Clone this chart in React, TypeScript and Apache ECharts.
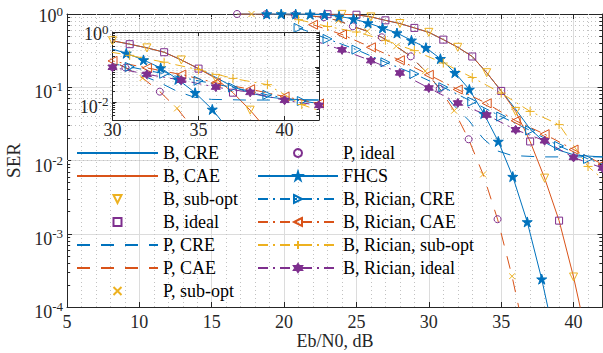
import React, { useEffect, useRef } from 'react';
import * as echarts from 'echarts';

// ---------------- data ----------------
const B_X = [17,18,19,20,21,22,23,24,25,26,27,28,29,30,31,32,33,34,35,36,37,38,39,40,41];
const B_CAE = [1,1,1,0.999,0.998,0.996,0.993,0.989,0.977,0.912,0.82,0.741,0.646,0.562,0.447,0.351,0.263,0.158,0.0891,0.0468,0.0182,0.00575,0.00151,0.000257,0.000032];
const B_CRE_X = [17,18,19,20,21,22,23,24,25,26,27,28,29,30,31,32,33,34,35,36,37,38,39,40,41,42];
const B_CRE = [1,1,1,0.999,0.998,0.996,0.993,0.989,0.977,0.912,0.82,0.741,0.646,0.562,0.447,0.351,0.263,0.158,0.0891,0.05,0.0269,0.0178,0.0138,0.012,0.0115,0.0112];
const B_SUB_X = [24,26,28,30,32,34,36,38,40];
const B_SUB = [0.989,0.912,0.741,0.562,0.351,0.158,0.0468,0.00575,0.000257];
const B_IDEAL_X = [23,25,27,29,31,33,35,37,39];
const B_IDEAL = [0.993,0.977,0.82,0.646,0.447,0.263,0.0891,0.0182,0.00151];

const P_X = [16.75,17.75,18.75,19.75,20.75,21.75,22.75,23.75,24.75,25.75,26.75,27.75,28.75,29.75,30.75,31.75,32.75,33.75,34.75,35.75,36.75];
const P_CAE = [1,1,0.993,0.986,0.973,0.944,0.902,0.813,0.679,0.582,0.481,0.363,0.264,0.166,0.0955,0.0479,0.0195,0.00646,0.00158,0.000263,0.000032];
const P_CRE_X = [16.75,17.75,18.75,19.75,20.75,21.75,22.75,23.75,24.75,25.75,26.75,27.75,28.75,29.75,30.75,31.75,32.75,33.75,34.75,35.75,37.75,39.75,42];
const P_CRE = [1,1,0.993,0.986,0.973,0.944,0.902,0.813,0.679,0.582,0.481,0.363,0.264,0.166,0.0955,0.056,0.0355,0.02,0.0135,0.0117,0.0112,0.0112,0.0112];
const P_IDEAL_X = [16.75,18.75,20.75,22.75,24.75,26.75,28.75,30.75,32.75,34.75];
const P_IDEAL = [1,0.993,0.973,0.902,0.679,0.481,0.264,0.0955,0.0195,0.00158];
const P_SUB_X = [17.75,19.75,21.75,23.75,25.75,27.75,29.75,31.75,33.75,35.75];
const P_SUB = [1,0.986,0.944,0.813,0.582,0.363,0.166,0.0479,0.00646,0.000263];

const FHCS_X = [18.8,19.8,20.8,21.8,22.8,23.8,24.8,25.8,26.8,27.8,28.8,29.8,30.8,31.8,32.8,33.8,34.8,35.8,36.8,37.8,38.8];
const FHCS = [1,1,0.998,0.99,0.977,0.93,0.855,0.753,0.646,0.55,0.437,0.347,0.245,0.158,0.0933,0.0437,0.0182,0.00603,0.00145,0.00024,0.00003];

const RC_CRE_X = [21,23,25,27,29,31,33,35,37,39,41,42];
const RC_CRE = [0.646,0.457,0.326,0.219,0.152,0.1,0.0635,0.0398,0.0257,0.0158,0.0105,0.0089];
const RC_CAE_X = [22,24,26,28,30,32,34,36,38,40,42];
const RC_CAE = [0.714,0.525,0.351,0.234,0.148,0.0933,0.0603,0.0349,0.0229,0.0141,0.0089];
const RC_SUB_X = [21,23,25,27,29,31,33,35,37,39,41,42];
const RC_SUB = [0.836,0.676,0.568,0.438,0.316,0.214,0.136,0.0832,0.0468,0.0309,0.0083,0.0056];
const RC_IDEAL_X = [22,24,26,28,30,32,34,36,38,40,42];
const RC_IDEAL = [0.437,0.324,0.231,0.157,0.0977,0.061,0.0417,0.0263,0.0186,0.011,0.0079];

const MAIN_X = [5, 42];
const MAIN_Y = [1e-4, 1];
const INSET_X = [30, 42];
const INSET_Y = [0.003, 1];
const X_TITLE = 'Eb/N0, dB';
const Y_TITLE = 'SER';

// ---------------- styles ----------------
const BLUE = '#0072BD';
const RED = '#D95319';
const YEL = '#EDB120';
const PUR = '#7E2F8E';
const AX = '#262626';
const GRID_MAJOR = '#dcdcdc';
const GRID_MINOR = '#c2c2c2';
const FONT = '"Liberation Serif", "Times New Roman", Times, serif';
const DASH = [13, 11];
const DASHDOT = [10, 5, 2, 5];

const SYM = {
  down: 'path://M0,0L10,0L5,9Z',
  right: 'path://M0,0L9,5L0,10Z',
  left: 'path://M9,0L0,5L9,10Z',
  square: 'path://M0,0L10,0L10,10L0,10Z',
  plus: 'path://M5,0L5,10M0,5L10,5',
  cross: 'path://M0,0L10,10M10,0L0,10',
  star5: 'path://M50,0L61.23,34.55L97.55,34.55L68.16,55.9L79.39,90.45L50,69.1L20.61,90.45L31.84,55.9L2.45,34.55L38.77,34.55Z',
  hex: 'path://M50,0L64.43,25L93.3,25L78.87,50L93.3,75L64.43,75L50,100L35.57,75L6.7,75L21.13,50L6.7,25L35.57,25Z',
};

type Spec = {
  name: string; x: number[]; y: number[]; color: string;
  line: any; sym?: string; size?: number; filled?: boolean; tailNoMarker?: boolean;
};

const SPECS: Spec[] = [
  { name: 'B, CRE', x: B_CRE_X, y: B_CRE, color: BLUE, line: 'solid' },
  { name: 'B, CAE', x: B_X, y: B_CAE, color: RED, line: 'solid' },
  { name: 'B, sub-opt', x: B_SUB_X, y: B_SUB, color: YEL, line: null, sym: SYM.down, size: 8 },
  { name: 'B, ideal', x: B_IDEAL_X, y: B_IDEAL, color: PUR, line: null, sym: SYM.square, size: 7 },
  { name: 'P, CRE', x: P_CRE_X, y: P_CRE, color: BLUE, line: DASH },
  { name: 'P, CAE', x: P_X, y: P_CAE, color: RED, line: DASH },
  { name: 'P, sub-opt', x: P_SUB_X, y: P_SUB, color: YEL, line: null, sym: SYM.cross, size: 6 },
  { name: 'P, ideal', x: P_IDEAL_X, y: P_IDEAL, color: PUR, line: null, sym: 'circle', size: 7 },
  { name: 'FHCS', x: FHCS_X, y: FHCS, color: BLUE, line: 'solid', sym: SYM.star5, size: 10, filled: true },
  { name: 'B, Rician, CRE', x: RC_CRE_X, y: RC_CRE, color: BLUE, line: DASHDOT, sym: SYM.right, size: 9, tailNoMarker: true },
  { name: 'B, Rician, CAE', x: RC_CAE_X, y: RC_CAE, color: RED, line: DASHDOT, sym: SYM.left, size: 9 },
  { name: 'B, Rician, sub-opt', x: RC_SUB_X, y: RC_SUB, color: YEL, line: DASHDOT, sym: SYM.plus, size: 9, tailNoMarker: true },
  { name: 'B, Rician, ideal', x: RC_IDEAL_X, y: RC_IDEAL, color: PUR, line: DASHDOT, sym: SYM.hex, size: 9, filled: true },
];

function buildSeries(spec: Spec, xi: number, yi: number, z: number) {
  const data = spec.x.map((x, i) => {
    const item: any = { value: [x, spec.y[i]] };
    if (spec.tailNoMarker && i === spec.x.length - 1) item.symbol = 'none';
    return item;
  });
  const hasLine = !!spec.line;
  return {
    type: 'line',
    name: spec.name,
    xAxisIndex: xi,
    yAxisIndex: yi,
    z,
    data,
    color: spec.color,
    symbol: spec.sym || 'none',
    symbolSize: spec.size || 0,
    showSymbol: !!spec.sym,
    clip: true,
    silent: true,
    emphasis: { disabled: true },
    lineStyle: hasLine
      ? { color: spec.color, width: 1, type: spec.line }
      : { color: spec.color, width: 0, opacity: 0 },
    itemStyle: {
      color: spec.filled ? spec.color : 'rgba(0,0,0,0)',
      borderColor: spec.color,
      borderWidth: 1,
    },
  };
}

function logMinors(lo: number, hi: number) {
  const out: number[] = [];
  for (let e = -6; e <= 1; e++) {
    for (let m = 2; m <= 9; m++) {
      const v = +(m * Math.pow(10, e)).toPrecision(3);
      if (v > lo * 1.0001 && v < hi * 0.9999) out.push(v);
    }
  }
  return out;
}

function linMinors(lo: number, hi: number, major: number) {
  const out: number[] = [];
  for (let v = Math.ceil(lo); v <= hi; v++) {
    if (v > lo && v < hi && v % major !== 0) out.push(v);
  }
  return out;
}

function decoSeries(xi: number, yi: number, z: number, xr: number[], yr: number[], tickLen: number, majorH: number[]) {
  const minorY = logMinors(yr[0], yr[1]);
  const minorX = linMinors(xr[0], xr[1], 5);
  const data: any[] = [];
  minorY.forEach((v) => data.push({ yAxis: v }));
  minorX.forEach((v) => data.push({ xAxis: v }));
  majorH.forEach((v) => data.push({ yAxis: v, lineStyle: { color: GRID_MAJOR, type: 'solid', width: 1 } }));
  minorY.forEach((v) => {
    data.push([{ coord: [xr[0], v], lineStyle: { color: AX, type: 'solid', width: 1 } }, { coord: [xr[0] + tickLen, v] }]);
    data.push([{ coord: [xr[1] - tickLen, v], lineStyle: { color: AX, type: 'solid', width: 1 } }, { coord: [xr[1], v] }]);
  });
  return {
    type: 'line',
    xAxisIndex: xi,
    yAxisIndex: yi,
    data: [],
    silent: true,
    z,
    markLine: {
      silent: true,
      z,
      animation: false,
      symbol: ['none', 'none'],
      label: { show: false },
      emphasis: { disabled: true },
      lineStyle: { color: GRID_MINOR, type: [1, 3], width: 1 },
      data,
    },
  };
}

// all tokens middle-aligned; paddings shift base down / superscript up
const RICH: any = {
  b: { fontFamily: FONT, fontSize: 18, lineHeight: 18, color: AX, padding: [10, 0, 0, 0] },
  s: { fontFamily: FONT, fontSize: 13, lineHeight: 13, color: AX, padding: [0, 0, 1, 0] },
  b0: { fontFamily: FONT, fontSize: 18, lineHeight: 18, color: AX, padding: [3, 0, 0, 0] },
  s0: { fontFamily: FONT, fontSize: 13, lineHeight: 13, color: AX, padding: [0, 0, 5, 0] },
};

function logLabel(allowed: number[] | null) {
  return (v: number) => {
    const l = Math.log10(v);
    const e = Math.round(l);
    if (Math.abs(l - e) > 1e-6) return '';
    if (allowed && allowed.indexOf(e) < 0) return '';
    return e === 0 ? '{b0|10}{s0|0}' : `{b|10}{s|${e}}`;
  };
}

function xAxisCfg(grid: number, range: number[], pos: string, labels: boolean, margin: number, extra: any = {}) {
  return {
    type: 'value',
    gridIndex: grid,
    min: range[0],
    max: range[1],
    interval: 5,
    position: pos,
    z: grid === 1 ? 6 : 0,
    axisLine: { show: true, onZero: false, lineStyle: { color: AX, width: 1 } },
    axisTick: { show: true, inside: true, length: grid === 1 ? 4 : 5, lineStyle: { color: AX, width: 1 } },
    axisLabel: {
      show: labels,
      margin,
      fontFamily: FONT,
      fontSize: 18,
      color: AX,
      formatter: (v: number) => (v % 5 === 0 ? String(v) : ''),
    },
    splitLine: { show: labels, lineStyle: { color: GRID_MAJOR, width: 1 } },
    minorTick: { show: false },
    minorSplitLine: { show: false },
    ...extra,
  };
}

function yAxisCfg(grid: number, range: number[], pos: string, labels: boolean, allowed: number[] | null, split: boolean, extra: any = {}) {
  return {
    type: 'log',
    logBase: 10,
    gridIndex: grid,
    min: range[0],
    max: range[1],
    position: pos,
    z: grid === 1 ? 6 : 0,
    axisLine: { show: true, onZero: false, lineStyle: { color: AX, width: 1 } },
    axisTick: { show: true, inside: true, length: grid === 1 ? 4 : 5, lineStyle: { color: AX, width: 1 } },
    axisLabel: {
      show: labels,
      margin: 4,
      formatter: logLabel(allowed),
      rich: RICH,
    },
    splitLine: { show: split, lineStyle: { color: GRID_MAJOR, width: 1 } },
    minorTick: { show: false },
    minorSplitLine: { show: false },
    ...extra,
  };
}

function legendItem(spec: Spec) {
  const item: any = { name: spec.name };
  if (!spec.sym) item.itemStyle = { opacity: 0 };
  if (!spec.line) item.lineStyle = { opacity: 0, width: 0 };
  return item;
}

export default function App() {
  const ref = useRef<HTMLDivElement>(null);

  useEffect(() => {
    if (!ref.current) return;
    const chart = echarts.init(ref.current, undefined, { renderer: 'svg' });

    const mainSeries = SPECS.map((s) => buildSeries(s, 0, 0, 2));
    const insetSeries = SPECS.map((s) => buildSeries(s, 2, 2, 7));

    const legendCommon = {
      orient: 'vertical',
      top: 144,
      itemHeight: 10,
      itemGap: 5,
      padding: 0,
      selectedMode: false,
      textStyle: { fontFamily: FONT, fontSize: 18, lineHeight: 18, color: '#000' },
    };

    const option: any = {
      animation: false,
      backgroundColor: '#ffffff',
      grid: [
        { left: 67, right: 0.5, top: 14, bottom: 46, outerBoundsMode: 'none' },
        {
          left: 112.5, right: 284, top: 32, bottom: 233, z: 5, show: true,
          backgroundColor: '#ffffff', borderWidth: 0, outerBoundsMode: 'none',
        },
      ],
      graphic: [
        {
          type: 'text',
          x: 335,
          y: 341,
          silent: true,
          style: {
            text: X_TITLE,
            fontFamily: FONT,
            fontSize: 18,
            fill: AX,
            align: 'center',
            verticalAlign: 'middle',
          },
        },
      ],
      xAxis: [
        xAxisCfg(0, MAIN_X, 'bottom', true, 6),
        xAxisCfg(0, MAIN_X, 'top', false, 6),
        xAxisCfg(1, INSET_X, 'bottom', true, 1),
        xAxisCfg(1, INSET_X, 'top', false, 1),
      ],
      yAxis: [
        yAxisCfg(0, MAIN_Y, 'left', true, null, true, {
          name: Y_TITLE,
          nameLocation: 'middle',
          nameGap: 40,
          nameRotate: 90,
          nameTextStyle: { fontFamily: FONT, fontSize: 19, color: AX },
        }),
        yAxisCfg(0, MAIN_Y, 'right', false, null, false),
        yAxisCfg(1, INSET_Y, 'left', true, [0, -2], false),
        yAxisCfg(1, INSET_Y, 'right', false, null, false),
      ],
      legend: [
        { ...legendCommon, left: 76, itemWidth: 81, data: SPECS.slice(0, 7).map(legendItem) },
        { ...legendCommon, left: 257, itemWidth: 80, data: SPECS.slice(7).map(legendItem) },
      ],
      series: [
        decoSeries(0, 0, 1, MAIN_X, MAIN_Y, 0.22, []),
        ...mainSeries,
        decoSeries(2, 2, 6, INSET_X, INSET_Y, 0.15, [0.01]),
        ...insetSeries,
      ],
    };

    chart.setOption(option);
    return () => {
      chart.dispose();
    };
  }, []);

  return (
    <div
      ref={ref}
      style={{ position: 'fixed', left: 0, top: 0, width: 603, height: 353, background: '#fff' }}
    />
  );
}
